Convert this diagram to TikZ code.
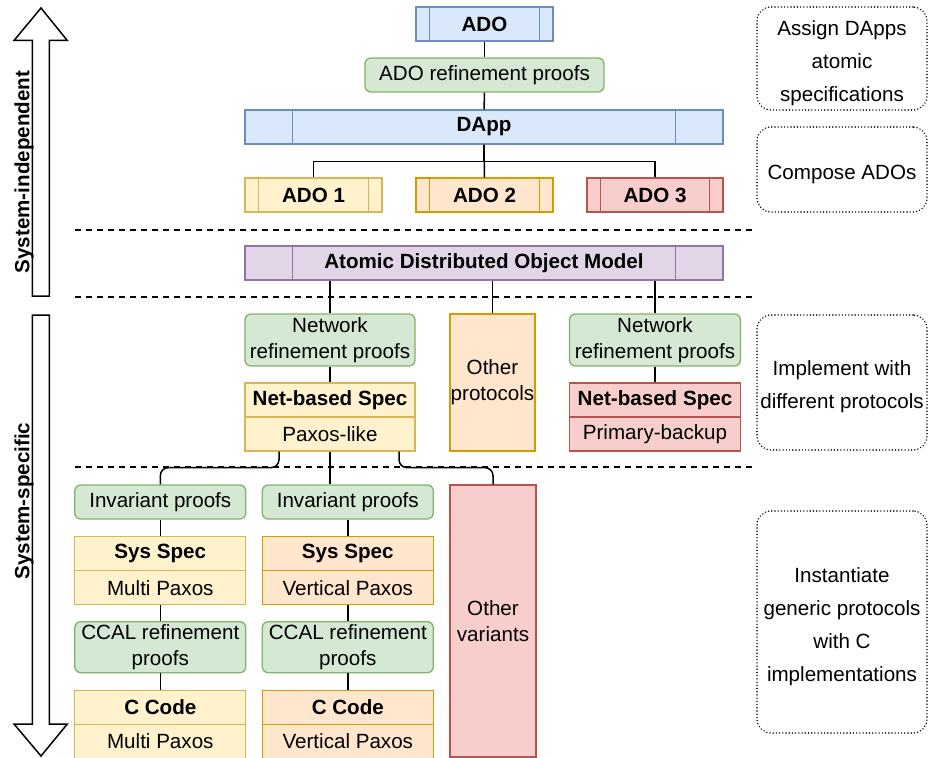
\documentclass[tikz,border=0pt]{standalone}
\usepackage{fontspec}
\setmainfont{Liberation Sans}
\usetikzlibrary{calc}
\definecolor{bluef}{HTML}{DAE8FC}\definecolor{blued}{HTML}{6C8EBF}
\definecolor{greenf}{HTML}{D5E8D4}\definecolor{greend}{HTML}{82B366}
\definecolor{yellowf}{HTML}{FFF2CC}\definecolor{yellowd}{HTML}{D6B656}
\definecolor{orangef}{HTML}{FFE6CC}\definecolor{oranged}{HTML}{D79B00}
\definecolor{redf}{HTML}{F8CECC}\definecolor{redd}{HTML}{B85450}
\definecolor{purplef}{HTML}{E1D5E7}\definecolor{purpled}{HTML}{9673A6}
\tikzset{
  tx/.style={font=\fontsize{20.6}{26}\selectfont},
  bx/.style={font=\fontsize{20.6}{26}\selectfont\bfseries},
  base/.style={draw, line width=1.3pt, inner sep=0pt, align=center, minimum height=34, tx},
  proc/.style={base, bx, draw=#1,
    path picture={\draw[#1, line width=1.3pt]
      ($(path picture bounding box.north west)!0.1!(path picture bounding box.north east)$) --
      ($(path picture bounding box.south west)!0.1!(path picture bounding box.south east)$)
      ($(path picture bounding box.north west)!0.9!(path picture bounding box.north east)$) --
      ($(path picture bounding box.south west)!0.9!(path picture bounding box.south east)$);}},
  proof/.style={base, fill=greenf, draw=greend, rounded corners=6},
  yel/.style={base, fill=yellowf, draw=yellowd},
  ora/.style={base, fill=orangef, draw=oranged},
  rd/.style={base, fill=redf, draw=redd},
  noteframe/.style={draw, line width=1.6pt, dash pattern=on 0.01pt off 3.2pt, line cap=round,
    rounded corners=14, minimum width=170, inner sep=0pt},
  notetext/.style={inner sep=0pt, align=center, font=\fontsize{20.6}{33}\selectfont},
  conn/.style={draw, line width=1.5pt},
  sep/.style={draw, line width=1.3pt, dash pattern=on 6pt off 5pt},
  bigarrow/.style={draw, line width=1.5pt, fill=white, line join=miter},
}
\begin{document}
\begin{tikzpicture}[x=1pt,y=-1pt]
\useasboundingbox (0,0) rectangle (928,757);

% level separators
\coordinate (s1l) at (75,230); \coordinate (s1r) at (755,230);
\coordinate (s2l) at (75,297); \coordinate (s2r) at (755,297);
\coordinate (s3l) at (75,467); \coordinate (s3r) at (755,467);
\draw[sep] (s1l) -- (s1r);
\draw[sep] (s2l) -- (s2r);
\draw[sep] (s3l) -- (s3r);

% side arrows
\draw[bigarrow] (41,8) -- (67.3,40.5) -- (49.3,40.5) -- (49.3,296) -- (32.3,296) -- (32.3,40.5) -- (14,40.5) -- cycle;
\draw[bigarrow] (32.3,315) -- (49.3,315) -- (49.3,724) -- (67.3,724) -- (41,756) -- (14,724) -- (32.3,724) -- cycle;
\node[bx, rotate=90] (lind) at (24,172) {System-independent};
\node[bx, rotate=90] (lspec) at (24,501) {System-specific};

% system-independent part
\node[proc=blued, fill=bluef, minimum width=137] (ado) at (484.5,24) {ADO};
\node[proof, minimum width=239] (adoref) at (484.5,75) {ADO refinement proofs};
\node[proc=blued, fill=bluef, minimum width=478] (dapp) at (484,127) {DApp};
\node[proc=yellowd, fill=yellowf, minimum width=137] (ado1) at (313.5,195) {ADO 1};
\node[proc=oranged, fill=orangef, minimum width=137] (ado2) at (484.5,195) {ADO 2};
\node[proc=redd, fill=redf, minimum width=136] (ado3) at (655,195) {ADO 3};

\draw[conn] (ado) -- (adoref);
\draw[conn] (adoref) -- (dapp);
\draw[conn] (dapp.south) -- (ado2.north);
\draw[conn] (dapp.south) -- ++(0,17) -| (ado1.north);
\draw[conn] (dapp.south) -- ++(0,17) -| (ado3.north);

% model
\node[proc=purpled, fill=purplef, minimum width=478] (adom) at (484,263) {Atomic Distributed Object Model};

% protocol level
\node[proof, minimum width=170, minimum height=52] (netl) at (330,340) {Network\\refinement proofs};
\node[ora, minimum width=85, minimum height=137] (othp) at (492.5,382.5) {Other\\protocols};
\node[proof, minimum width=171, minimum height=52] (netr) at (655,340) {Network\\refinement proofs};
\node[yel, bx, minimum width=170] (nspl) at (330,400) {Net-based Spec};
\node[yel, minimum width=170] (paxl) at (330,434) {Paxos-like};
\node[rd, bx, minimum width=171] (nspr) at (655,400) {Net-based Spec};
\node[rd, minimum width=171] (pbr) at (655,434) {Primary-backup};

\draw[conn] (netl.north) -- (netl.north |- adom.south);
\draw[conn] (othp.north) -- (othp.north |- adom.south);
\draw[conn] (netr.north) -- (netr.north |- adom.south);
\draw[conn] (netl) -- (nspl);
\draw[conn] (netr) -- (nspr);

% system level
\node[proof, minimum width=171] (invl) at (160.3,502) {Invariant proofs};
\node[proof, minimum width=171] (invm) at (347.8,502) {Invariant proofs};
\node[rd, minimum width=86, minimum height=272] (othv) at (493,621) {Other\\variants};

\node[yel, bx, minimum width=171] (sysl) at (160.3,553.7) {Sys Spec};
\node[yel, minimum width=171] (mpl) at (160.3,587.8) {Multi Paxos};
\node[ora, bx, minimum width=171] (sysm) at (347.8,553.7) {Sys Spec};
\node[ora, minimum width=171] (vpm) at (347.8,587.8) {Vertical Paxos};

\node[proof, minimum width=171, minimum height=51] (ccall) at (160.3,647.2) {CCAL refinement\\proofs};
\node[proof, minimum width=171, minimum height=51] (ccalm) at (347.8,647.2) {CCAL refinement\\proofs};

\node[yel, bx, minimum width=171] (ccl) at (160.3,707.2) {C Code};
\node[yel, minimum width=171] (cmpl) at (160.3,741.3) {Multi Paxos};
\node[ora, bx, minimum width=171] (ccm) at (347.8,707.2) {C Code};
\node[ora, minimum width=171] (cvpm) at (347.8,741.3) {Vertical Paxos};

\draw[conn, rounded corners=8] ([xshift=-51]paxl.south) -- ++(0,16) -| (invl.north);
\draw[conn] (paxl.south) -- (paxl.south |- invm.north);
\draw[conn, rounded corners=8] ([xshift=69]paxl.south) -- ++(0,16) -| (othv.north);

\draw[conn] (invl) -- (sysl);
\draw[conn] (invm) -- (sysm);
\draw[conn] (mpl) -- (ccall);
\draw[conn] (vpm) -- (ccalm);
\draw[conn] (ccall) -- (ccl);
\draw[conn] (ccalm) -- (ccm);

% step notes: dotted frames with their text set slightly low
\node[noteframe, minimum height=103] (n1) at (842,58.5) {};
\node[noteframe, minimum height=85] (n2) at (842,169.5) {};
\node[noteframe, minimum height=135] (n3) at (842,382.5) {};
\node[noteframe, minimum height=222] (n4) at (842,622) {};
\node[notetext] (t1) at ([yshift=-4.5]n1.center) {Assign DApps\\atomic\\specifications};
\node[notetext] (t2) at ([yshift=-4.5]n2.center) {Compose ADOs};
\node[notetext] (t3) at ([yshift=-4.5]n3.center) {Implement with\\different protocols};
\node[notetext] (t4) at ([yshift=-4.5]n4.center) {Instantiate\\generic protocols\\with C\\implementations};
\end{tikzpicture}
\end{document}
